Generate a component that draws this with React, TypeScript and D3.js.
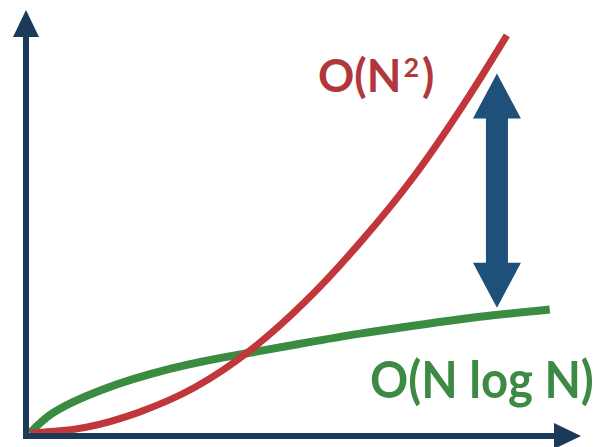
import React from "react";
import * as d3 from "d3";

// Problem size N (arbitrary units) and the cost of each algorithm class
const quadN = [0, 1, 2, 3, 4, 5, 6, 7, 8, 8.67];
const quadCost = [0, 0.13, 0.5, 1.08, 1.95, 3.1, 4.5, 6.1, 8.0, 9.4];

const nlognN = [0, 0.4, 1, 1.6, 2.2, 2.85, 3.45, 4.05, 5, 6, 7, 8, 9.45];
const nlognCost = [0, 0.46, 0.86, 1.16, 1.40, 1.61, 1.77, 1.91, 2.13, 2.35, 2.54, 2.72, 2.92];

// Gap arrow spans between the two curves at this N
const gapN = 8.49;
const gapTop = 8.5;
const gapBottom = 2.96;

const W = 595;
const H = 447;

const AXIS = "#1b3a5a";
const GAP = "#1f4f7b";
const RED = "#c1363b";
const GREEN = "#3b8c41";

export default function App() {
  const x = d3.scaleLinear().domain([0, 10]).range([30, 580]);
  const y = d3.scaleLinear().domain([0, 10]).range([433, 10]);

  const quadLine = d3
    .line<[number, number]>()
    .x((d) => x(d[0]))
    .y((d) => y(d[1]))
    .curve(d3.curveMonotoneX);

  const nlognLine = d3
    .line<[number, number]>()
    .x((d) => x(d[0]))
    .y((d) => y(d[1]))
    .curve(d3.curveNatural);

  const quadPts = quadN.map((n, i) => [n, quadCost[i]] as [number, number]);
  const nlognPts = nlognN.map((n, i) => [n, nlognCost[i]] as [number, number]);

  // axes geometry
  const ox = 26;
  const oy = 436;
  const axisW = 6;
  const yTip = 10;
  const xTip = 581;
  const headLen = 27;
  const headHalf = 13;

  // gap arrow geometry
  const gx = x(gapN);
  const gTop = y(gapTop);
  const gBot = y(gapBottom);
  const gHead = 45;
  const gHalf = 24;
  const gShaft = 11;
  const gapPath = [
    [gx, gTop],
    [gx + gHalf, gTop + gHead],
    [gx + gShaft, gTop + gHead],
    [gx + gShaft, gBot - gHead],
    [gx + gHalf, gBot - gHead],
    [gx, gBot],
    [gx - gHalf, gBot - gHead],
    [gx - gShaft, gBot - gHead],
    [gx - gShaft, gTop + gHead],
    [gx - gHalf, gTop + gHead],
  ]
    .map((p) => p.join(","))
    .join(" ");

  const font = "Lato, 'Open Sans', sans-serif";

  return (
    <div style={{ position: "fixed", left: 0, top: 0 }}>
      <svg width={W} height={H} viewBox={`0 0 ${W} ${H}`} style={{ display: "block", background: "#fff" }}>
        {/* curves */}
        <path d={nlognLine(nlognPts) ?? ""} fill="none" stroke={GREEN} strokeWidth={8} strokeLinecap="butt" />
        <path d={quadLine(quadPts) ?? ""} fill="none" stroke={RED} strokeWidth={7} strokeLinecap="butt" />

        {/* axes */}
        <line x1={ox} y1={oy + 3} x2={ox} y2={yTip + headLen - 1} stroke={AXIS} strokeWidth={axisW} />
        <polygon
          points={`${ox},${yTip} ${ox + headHalf},${yTip + headLen} ${ox - headHalf},${yTip + headLen}`}
          fill={AXIS}
        />
        <line x1={ox - 3} y1={oy} x2={xTip - headLen + 1} y2={oy} stroke={AXIS} strokeWidth={axisW} />
        <polygon
          points={`${xTip},${oy} ${xTip - headLen},${oy - headHalf} ${xTip - headLen},${oy + headHalf}`}
          fill={AXIS}
        />

        {/* gap arrow */}
        <polygon points={gapPath} fill={GAP} />

        {/* labels */}
        <text x={318} y={92} fill="#b2373c" fontFamily={font} fontWeight={700} fontSize={45}>
          O(N
          <tspan fontSize={27} dx={2} dy={-15}>2</tspan>
          <tspan dx={3} dy={15}>)</tspan>
        </text>
        <text
          transform="translate(370,398) scale(0.91,1)"
          fill="#3d8a44"
          fontFamily={font}
          fontWeight={700}
          fontSize={52}
        >
          O(N log N)
        </text>
      </svg>
    </div>
  );
}
